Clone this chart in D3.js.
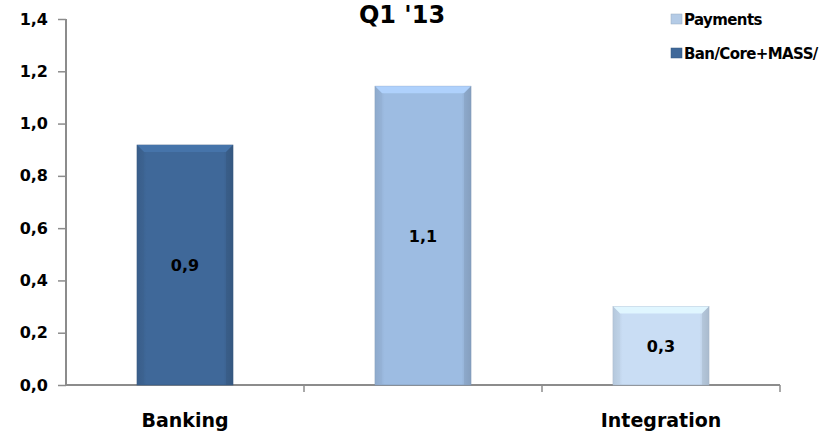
<!DOCTYPE html>
<html><head><meta charset="utf-8">
<script src="https://cdn.jsdelivr.net/npm/d3@7"></script>
<style>body{margin:0;background:#fff}svg{display:block}text{font-family:"DejaVu Sans",Verdana,sans-serif}</style>
</head><body>
<svg id="c" width="831" height="433"></svg>
<script>
const title = "Q1 '13";
const categories = ["Banking", "", "Integration"];
const values = [0.918, 1.143, 0.30];
const valueLabels = ["0,9", "1,1", "0,3"];
const barColors = ["#3f6899", "#9dbce2", "#c9ddf4"];
const yTicks = [0, 0.2, 0.4, 0.6, 0.8, 1.0, 1.2, 1.4];
const legendLabels = ["Payments", "Ban/Core+MASS/"];
const legendColors = ["#b4cbe6", "#3f6899"];

const svg = d3.select("#c");
const m = {l:66, r:51, t:19, b:48};
const W = 831, H = 433;
const xo = d3.scaleBand().domain(d3.range(categories.length)).range([m.l, W - m.r]);
const y = d3.scaleLinear().domain([0, 1.4]).range([H - m.b, m.t]);

const defs = svg.append("defs");
barColors.forEach((c, i) => {
  const g = defs.append("linearGradient").attr("id", "g" + i).attr("x1", 0).attr("x2", 1);
  const base = d3.color(c);
  g.append("stop").attr("offset", 0).attr("stop-color", base.darker(0.35));
  g.append("stop").attr("offset", 0.1).attr("stop-color", c);
  g.append("stop").attr("offset", 0.9).attr("stop-color", c);
  g.append("stop").attr("offset", 1).attr("stop-color", base.darker(0.45));
});

// y axis
const ya = svg.append("g").attr("transform", `translate(${m.l},0)`)
  .call(d3.axisLeft(y).tickValues(yTicks).tickSize(8).tickPadding(10)
    .tickFormat(d => d3.format(".1f")(d).replace(".", ",")));
ya.select(".domain").attr("stroke", "#8c8c8c").attr("stroke-width", 2).attr("d", `M0,${y(1.4)}V${y(0)}`);
ya.selectAll(".tick line").attr("stroke", "#8c8c8c").attr("stroke-width", 1.5);
ya.selectAll(".tick text").attr("font-size", 16).attr("font-weight", 700).attr("fill", "#000");

// x axis
const xa = svg.append("g").attr("transform", `translate(0,${y(0)})`);
xa.append("line").attr("x1", m.l).attr("x2", W - m.r).attr("stroke", "#8c8c8c").attr("stroke-width", 2);
xa.selectAll(".xt").data(d3.range(categories.length)).enter().append("line")
  .attr("x1", i => xo(i) + xo.bandwidth()).attr("x2", i => xo(i) + xo.bandwidth())
  .attr("y1", 0).attr("y2", 7).attr("stroke", "#8c8c8c").attr("stroke-width", 1.5);
xa.selectAll(".xl").data(categories).enter().append("text")
  .attr("x", (d, i) => xo(i) + xo.bandwidth() / 2).attr("y", 42)
  .attr("text-anchor", "middle").attr("font-size", 19).attr("font-weight", 700)
  .attr("fill", "#000").text(d => d);

// bars
const bw = 96;
const bars = svg.append("g").selectAll("g").data(values).enter().append("g");
bars.each(function(v, i) {
  const gsel = d3.select(this);
  const cx = xo(i) + xo.bandwidth() / 2;
  const x0 = cx - bw / 2, x1 = cx + bw / 2, y0 = y(v), y1 = y(0);
  const bev = 7;
  const base = d3.color(barColors[i]);
  gsel.append("rect").attr("x", x0).attr("y", y0).attr("width", bw).attr("height", y1 - y0)
    .attr("fill", `url(#g${i})`).attr("stroke", base.darker(0.6)).attr("stroke-width", 0.6);
  gsel.append("path").attr("d", `M${x0},${y0}H${x1}L${x1 - bev},${y0 + bev}H${x0 + bev}Z`)
    .attr("fill", base.brighter(0.3));
  gsel.append("path").attr("d", `M${x0},${y0}L${x0 + bev},${y0 + bev}V${y1}H${x0}Z`).attr("fill", base.darker(0.2)).attr("opacity", 0.45);
  gsel.append("path").attr("d", `M${x1},${y0}L${x1 - bev},${y0 + bev}V${y1}H${x1}Z`).attr("fill", base.darker(0.5)).attr("opacity", 0.5);
  gsel.append("text").attr("x", cx).attr("y", (y0 + y1) / 2 + 6).attr("text-anchor", "middle")
    .attr("font-size", 16).attr("font-weight", 700).attr("fill", "#000").text(valueLabels[i]);
});

// title
svg.append("text").attr("x", 402).attr("y", 23).attr("text-anchor", "middle")
  .attr("font-size", 24).attr("font-weight", 700).attr("fill", "#000").text(title);

// legend
const lg = svg.append("g").selectAll("g").data(legendLabels).enter().append("g")
  .attr("transform", (d, i) => `translate(671,${19 + i * 34})`);
lg.append("rect").attr("x", 0).attr("y", -5).attr("width", 11).attr("height", 10)
  .attr("fill", (d, i) => legendColors[i]).attr("stroke", (d, i) => d3.color(legendColors[i]).darker(0.5)).attr("stroke-width", 0.5);
lg.append("text").attr("x", 13).attr("y", 5.5).attr("font-size", 15).attr("font-weight", 700)
  .attr("letter-spacing", -0.6).attr("fill", "#000").text(d => d);
</script>
</body></html>
